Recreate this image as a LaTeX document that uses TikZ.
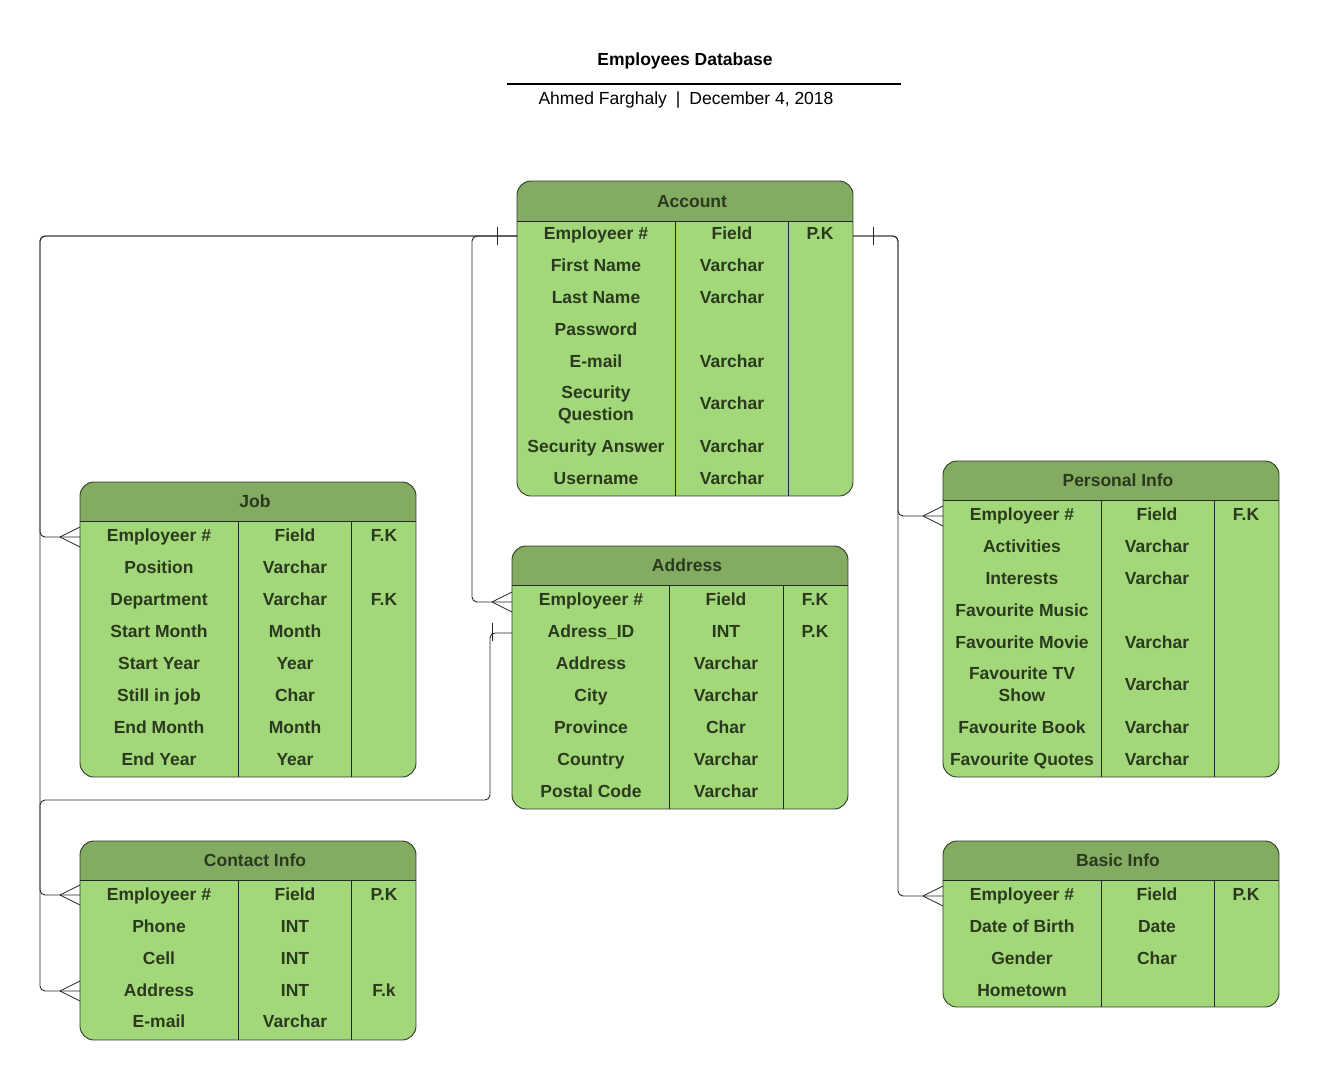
\documentclass[tikz,border=0pt]{standalone}
\usepackage{fontspec}
\setmainfont{Liberation Sans}
\definecolor{headc}{HTML}{83AC62}
\definecolor{bodyc}{HTML}{A2D879}
\definecolor{txtc}{HTML}{2B3A1E}
\definecolor{edgec}{HTML}{2F3A26}
\tikzset{
  ebox/.style={draw=edgec, line width=0.9pt, rounded corners=14, inner sep=0pt, outer sep=0pt},
  cell/.style={draw=black!85, line width=0.8pt},
  cellt/.style={anchor=base, text=txtc, font=\fontsize{17.5}{22}\selectfont\bfseries, align=center, inner sep=0pt},
  conn/.style={draw=black!85, line width=0.9pt, rounded corners=5},
  foot/.style={draw=black!85, line width=0.8pt},
}
\newcommand{\entity}[9]{%
  \begin{scope}
    \path[clip, rounded corners=14] (#2,#6) rectangle (#5,#8);
    \fill[bodyc] (#2,#6) rectangle (#5,#8);
    \fill[headc] (#2,#6) rectangle (#5,#7);
  \end{scope}
  \draw[cell] (#2,#7) -- (#5,#7);
  \draw[cell] (#3,#7) -- (#3,#8);
  \draw[cell] (#4,#7) -- (#4,#8);
  \node[ebox, minimum width={(#5-#2)*1pt}, minimum height={(#8-#6)*1pt}] (#1) at ({(#2+#5)/2},{(#6+#8)/2}) {};
  \node[cellt] (#1-title) at ({(#2+#5)/2+7},{(#6+#7)/2+6}) {#9};
}
\newcommand{\crowfoot}[2]{%
  \draw[foot] ({#1-20},#2) -- (#1,{#2-10});
  \draw[foot] ({#1-20},#2) -- (#1,{#2+10});
}
\begin{document}
\begin{tikzpicture}[x=1pt,y=-1pt]
\useasboundingbox[fill=white] (0,0) rectangle (1320,1081);

% Title block
\node[anchor=base, inner sep=0pt, font=\fontsize{17.5}{21}\selectfont\bfseries] (title) at (685,66) {Employees Database};
\coordinate (rulel) at (507,84);
\coordinate (ruler) at (901,84);
\draw[line width=1.8pt] (rulel) -- (ruler);
\node[anchor=base, inner sep=0pt, font=\fontsize{17.5}{21}\selectfont] (author) at (686,104) {Ahmed Farghaly\hspace{9pt}|\hspace{9pt}December 4, 2018};

% Account
\entity{acc}{517}{675}{788}{853}{181}{221}{496}{Account}
\foreach \y/\a/\b/\c [count=\i] in {233/Employeer \#/Field/P.K, 265/First Name/Varchar/, 297/Last Name/Varchar/, 329/Password//, 361/E-mail/Varchar/, 403//Varchar/, 446/Security Answer/Varchar/, 478/Username/Varchar/}{
  \node[cellt] (acc-a\i) at (596,\y+6) {\a};
  \node[cellt] (acc-b\i) at (732,\y+6) {\b};
  \node[cellt] (acc-c\i) at (820,\y+6) {\c};
}
\node[cellt] (acc-sq) at (596,420) {Security\\Question};

% Job
\entity{job}{80}{238}{351}{416}{482}{521}{777}{Job}
\foreach \y/\a/\b/\c [count=\i] in {535/Employeer \#/Field/F.K, 567/Position/Varchar/, 599/Department/Varchar/F.K, 631/Start Month/Month/, 663/Start Year/Year/, 695/Still in job/Char/, 727/End Month/Month/, 759/End Year/Year/}{
  \node[cellt] (job-a\i) at (159,\y+6) {\a};
  \node[cellt] (job-b\i) at (295,\y+6) {\b};
  \node[cellt] (job-c\i) at (384,\y+6) {\c};
}

% Address
\entity{add}{512}{669}{783}{848}{546}{585}{809}{Address}
\foreach \y/\a/\b/\c [count=\i] in {599/Employeer \#/Field/F.K, 631/Adress\_ID/INT/P.K, 663/Address/Varchar/, 695/City/Varchar/, 727/Province/Char/, 759/Country/Varchar/, 791/Postal Code/Varchar/}{
  \node[cellt] (add-a\i) at (591,\y+6) {\a};
  \node[cellt] (add-b\i) at (726,\y+6) {\b};
  \node[cellt] (add-c\i) at (815,\y+6) {\c};
}

% Personal Info
\entity{per}{943}{1101}{1214}{1279}{461}{500}{777}{Personal Info}
\foreach \y/\a/\b/\c [count=\i] in {514/Employeer \#/Field/F.K, 546/Activities/Varchar/, 578/Interests/Varchar/, 610/Favourite Music//, 642/Favourite Movie/Varchar/, 684//Varchar/, 727/Favourite Book/Varchar/, 759/Favourite Quotes/Varchar/}{
  \node[cellt] (per-a\i) at (1022,\y+6) {\a};
  \node[cellt] (per-b\i) at (1157,\y+6) {\b};
  \node[cellt] (per-c\i) at (1246,\y+6) {\c};
}
\node[cellt] (per-tv) at (1022,701) {Favourite TV\\Show};

% Contact Info
\entity{con}{80}{238}{351}{416}{841}{880}{1040}{Contact Info}
\foreach \y/\a/\b/\c [count=\i] in {894/Employeer \#/Field/P.K, 926/Phone/INT/, 958/Cell/INT/, 990/Address/INT/F.k, 1021/E-mail/Varchar/}{
  \node[cellt] (con-a\i) at (159,\y+6) {\a};
  \node[cellt] (con-b\i) at (295,\y+6) {\b};
  \node[cellt] (con-c\i) at (384,\y+6) {\c};
}

% Basic Info
\entity{bas}{943}{1101}{1214}{1279}{841}{880}{1007}{Basic Info}
\foreach \y/\a/\b/\c [count=\i] in {894/Employeer \#/Field/P.K, 926/Date of Birth/Date/, 958/Gender/Char/, 990/Hometown//}{
  \node[cellt] (bas-a\i) at (1022,\y+6) {\a};
  \node[cellt] (bas-b\i) at (1157,\y+6) {\b};
  \node[cellt] (bas-c\i) at (1246,\y+6) {\c};
}

% Attachment points
\coordinate (accL) at (517,236);
\coordinate (accR) at (853,236);
\coordinate (jobE) at (80,537);
\coordinate (addE) at (512,602);
\coordinate (addID) at (512,633);
\coordinate (conE) at (80,895);
\coordinate (conA) at (80,991);
\coordinate (perE) at (943,516);
\coordinate (basE) at (943,896);

% Connectors
\draw[conn] (accL) -- (40,236) -- (40,537) -- (jobE);
\draw[conn] (accL) -- (40,236) -- (40,895) -- (conE);
\draw[conn] (accL) -- (472,236) -- (472,602) -- (addE);
\draw[foot] (497,227) -- (497,245);
\draw[conn] (addID) -- (490,633) -- (490,800) -- (40,800) -- (40,991) -- (conA);
\draw[foot] (492,623) -- (492,641);
\draw[conn] (accR) -- (898,236) -- (898,516) -- (perE);
\draw[conn] (accR) -- (898,236) -- (898,896) -- (basE);
\draw[foot] (873,227) -- (873,245);

\crowfoot{80}{537}
\crowfoot{512}{602}
\crowfoot{80}{895}
\crowfoot{80}{991}
\crowfoot{943}{516}
\crowfoot{943}{896}
\end{tikzpicture}
\end{document}
